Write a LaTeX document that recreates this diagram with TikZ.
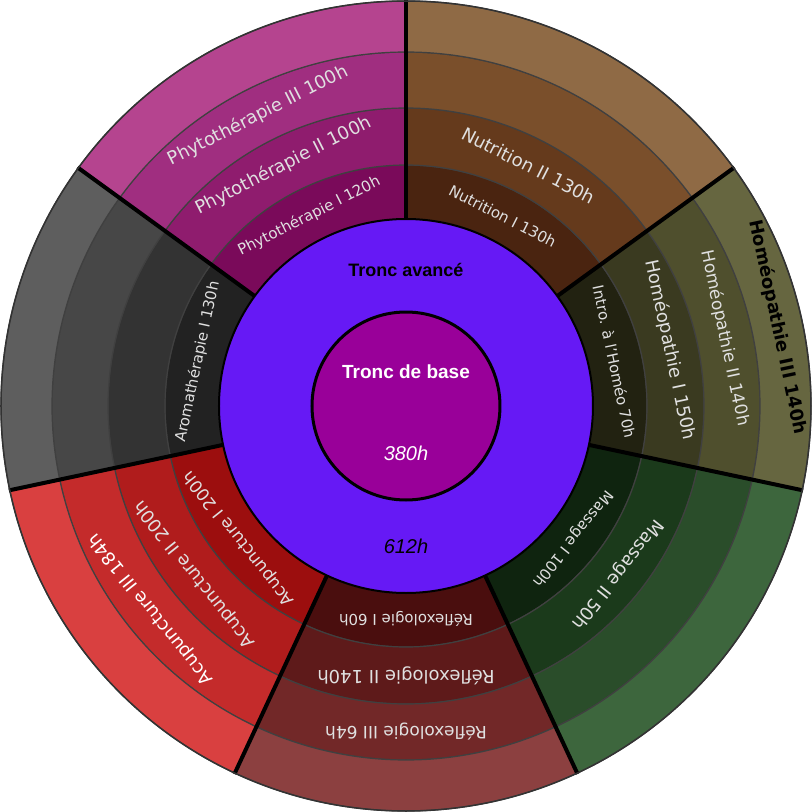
\documentclass[tikz,border=0pt]{standalone}
\usepackage{fontspec}
\setmainfont{DejaVu Sans}
\newfontfamily\arialf{Liberation Sans}
\begin{document}
\begin{tikzpicture}[x=1pt,y=1pt,
  lbl/.style={text=white!88!black,font=\fontsize{#1}{#1}\selectfont,inner sep=0pt},
  lbl/.default=12]
\useasboundingbox (-406,-406) rectangle (406,406);
\newcommand{\sect}[5]{\fill[#5,draw=black!75,line width=1.2] (#1:#3) arc[start angle=#1,end angle=#2,radius=#3] -- (#2:#4) arc[start angle=#2,end angle=#1,radius=#4] -- cycle;}
\newcommand{\sector}[6]{%
 \sect{#1}{#2}{187}{241}{#3}\sect{#1}{#2}{241}{298}{#4}\sect{#1}{#2}{298}{354}{#5}\sect{#1}{#2}{354}{405}{#6}}
\definecolor{n1}{HTML}{4A2410}\definecolor{n2}{HTML}{653A1C}\definecolor{n3}{HTML}{7A4F2B}\definecolor{n4}{HTML}{8F6A45}
\definecolor{p1}{HTML}{7A0A5A}\definecolor{p2}{HTML}{8F1C6E}\definecolor{p3}{HTML}{A02E80}\definecolor{p4}{HTML}{B5448F}
\definecolor{g1}{HTML}{222222}\definecolor{g2}{HTML}{333333}\definecolor{g3}{HTML}{474747}\definecolor{g4}{HTML}{5E5E5E}
\definecolor{a1}{HTML}{9C0E0E}\definecolor{a2}{HTML}{B01C1C}\definecolor{a3}{HTML}{C42B2B}\definecolor{a4}{HTML}{D94040}
\definecolor{r1}{HTML}{4A0E0E}\definecolor{r2}{HTML}{5E1A1A}\definecolor{r3}{HTML}{722828}\definecolor{r4}{HTML}{8C4040}
\definecolor{m1}{HTML}{0F240F}\definecolor{m2}{HTML}{1B3A1B}\definecolor{m3}{HTML}{2A4D2A}\definecolor{m4}{HTML}{3D663D}
\definecolor{h1}{HTML}{222211}\definecolor{h2}{HTML}{3A3A20}\definecolor{h3}{HTML}{4F4F2D}\definecolor{h4}{HTML}{666640}
\sector{36}{90}{n1}{n2}{n3}{n4}
\sector{90}{144}{p1}{p2}{p3}{p4}
\sector{144}{192}{g1}{g2}{g3}{g4}
\sector{192}{245}{a1}{a2}{a3}{a4}
\sector{245}{295}{r1}{r2}{r3}{r4}
\sector{295}{348}{m1}{m2}{m3}{m4}
\sector{348}{396}{h1}{h2}{h3}{h4}
\foreach \a in {36,90,144,192,245,295,348} \draw[line width=4,black] (\a:187) -- (\a:406);
\draw[black!80,line width=1.5] (0,0) circle (405);
\fill[draw=black,line width=2,fill={rgb,255:red,102;green,25;blue,245}] (0,0) circle (187);
\fill[draw=black,line width=3,fill={rgb,255:red,153;green,0;blue,153}] (0,0) circle (94);
\node (tb) at (0,34) {\arialf\bfseries\fontsize{19}{19}\selectfont\color{white}Tronc de base};
\node (h380) at (0,-47) {\arialf\itshape\fontsize{20}{20}\selectfont\color{white}380h};
\node (ta) at (0,136) {\arialf\bfseries\fontsize{18}{18}\selectfont Tronc avancé};
\node (h612) at (0,-140) {\arialf\itshape\fontsize{20}{20}\selectfont 612h};
\node[lbl=15,rotate=-27] (n1l) at (63:213) {Nutrition I 130h};
\node[lbl=18,rotate=-27] (n2l) at (63:270) {Nutrition II 130h};
\node[lbl=15,rotate=27] (p1l) at (117:213) {Phytothérapie I 120h};
\node[lbl=18,rotate=27] (p2l) at (117:270) {Phytothérapie II 100h};
\node[lbl=18,rotate=27] (p3l) at (117:326) {Phytothérapie III 100h};
\node[lbl=15,rotate=78] (g1l) at (168:213) {Aromathérapie I 130h};
\node[lbl=17,rotate=128.5] (a1l) at (218.5:213) {Acupuncture I 200h};
\node[lbl=18,rotate=128.5] (a2l) at (218.5:270) {Acupuncture II 200h};
\node[lbl=18,rotate=128.5,text=white] (a3l) at (218.5:326) {Acupuncture III 184h};
\node[lbl=15,rotate=180] (r1l) at (270:213) {Réflexologie I 60h};
\node[lbl=18,rotate=180] (r2l) at (270:270) {Réflexologie II 140h};
\node[lbl=17,rotate=180] (r3l) at (270:326) {Réflexologie III 64h};
\node[lbl=15,rotate=231.5] (m1l) at (321.5:213) {Massage I 100h};
\node[lbl=18,rotate=231.5] (m2l) at (321.5:270) {Massage II 50h};
\node[lbl=15,rotate=-78] (h1l) at (12:213) {Intro. à l'Homéo 70h};
\node[lbl=18,rotate=-78] (h2l) at (12:270) {Homéopathie I 150h};
\node[lbl=17,rotate=-78] (h3l) at (12:326) {Homéopathie II 140h};
\node[lbl=18,rotate=-78,text=black,font=\bfseries\fontsize{18}{18}\selectfont] (h4l) at (12:380) {Homéopathie III 140h};
\end{tikzpicture}
\end{document}
